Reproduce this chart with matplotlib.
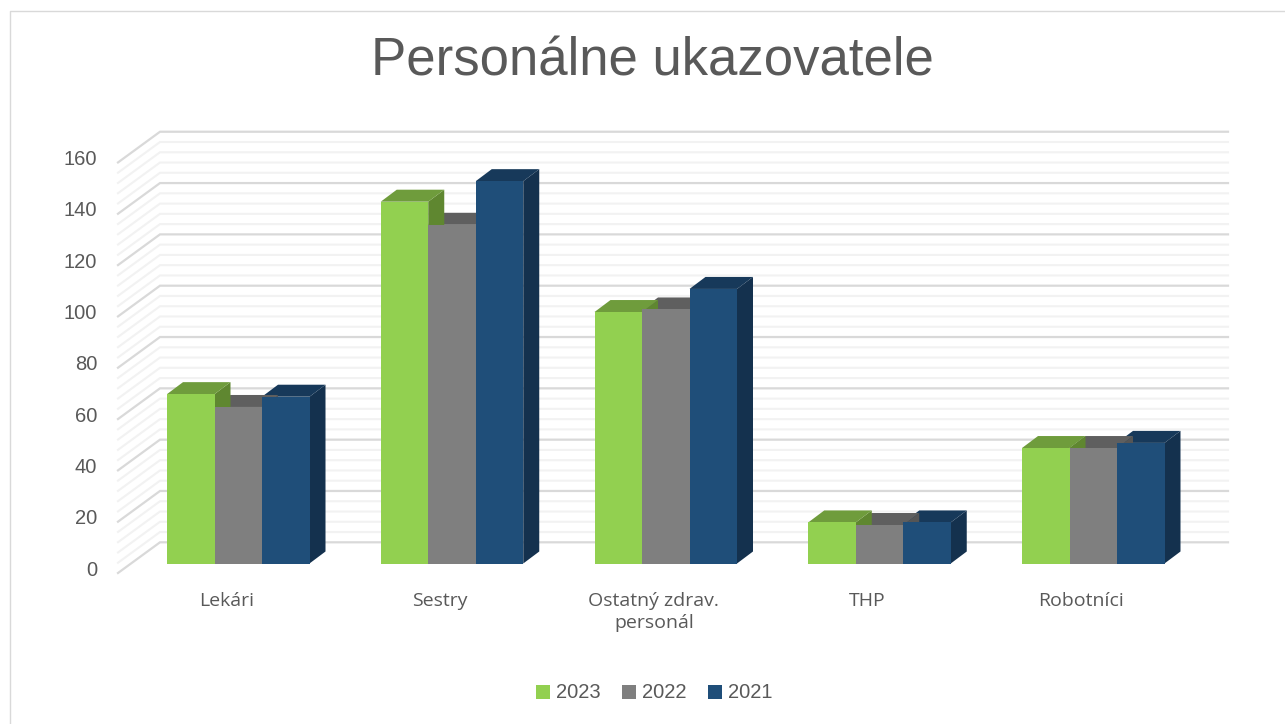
import matplotlib
matplotlib.use("Agg")
import matplotlib.pyplot as plt
from matplotlib.patches import Polygon

W, H = 1285, 724

categories = ["Lekári", "Sestry", "Ostatný zdrav.\npersonál", "THP", "Robotníci"]
years = ["2023", "2022", "2021"]
v2023 = [66, 141, 98, 16, 45]
v2022 = [61, 132, 99, 15, 45]
v2021 = [65, 149, 107, 16, 47]
y_ticks = [0, 20, 40, 60, 80, 100, 120, 140, 160]

FRONT = ["#92d050", "#7f7f7f", "#1f4e79"]
TOP = ["#6f9c3c", "#5f5f5f", "#17395a"]
SIDE = ["#5f8730", "#555555", "#14314e"]

GROUP_STEP = 213.75   # px per category
UNIT = 2.566          # px per value unit
X0_PX = 238.25        # centre of first group
Y0_PX = 563.5         # value 0 on the front of the bars
BAR_W = 47.5 / GROUP_STEP
DX = 16 / GROUP_STEP
DY = 12 / UNIT


def px_x(px):
    return (px - X0_PX) / GROUP_STEP


def px_y(px):
    return (Y0_PX - px) / UNIT


fig = plt.figure(figsize=(W / 100, H / 100), dpi=100, facecolor="white")
ax = fig.add_axes([0, 0, 1, 1])
ax.set_xlim(px_x(0), px_x(W))
ax.set_ylim(px_y(H), px_y(0))
ax.axis("off")

# frame of the chart area
ax.plot([px_x(9.5), px_x(9.5), px_x(W)], [px_y(H), px_y(10.5), px_y(10.5)],
        color="#d9d9d9", lw=1.0, zorder=1)

# gridlines on the side wall and the back wall
wall_front_x = px_x(118)
wall_back_x = px_x(160)
wall_right_x = px_x(1228)
wall_front_drop = 573 - Y0_PX
wall_back_rise = Y0_PX - 542.3
for v in range(0, 161, 4):
    major = v % 20 == 0
    yf = v - wall_front_drop / UNIT
    yb = v + wall_back_rise / UNIT
    ax.plot([wall_front_x, wall_back_x, wall_right_x], [yf, yb, yb],
            color="#d9d9d9" if major else "#f2f2f2",
            lw=1.6 if major else 1.5, zorder=2 if major else 1.5,
            solid_joinstyle="miter")

# bars, back to front so the neighbour's side is hidden
series = [v2023, v2022, v2021]
for c in range(len(categories)):
    for s in [2, 1, 0]:
        v = series[s][c]
        x0 = c + (s - 1.5) * BAR_W
        x1 = x0 + BAR_W
        ax.add_patch(Polygon([(x1, 0), (x1 + DX, DY), (x1 + DX, v + DY), (x1, v)],
                             closed=True, fc=SIDE[s], ec="none", zorder=3))
        ax.add_patch(Polygon([(x0, v), (x0 + DX, v + DY), (x1 + DX, v + DY), (x1, v)],
                             closed=True, fc=TOP[s], ec="none", zorder=3))
for c in range(len(categories)):
    for s in range(3):
        x = c + (s - 1) * BAR_W
        ax.bar(x, series[s][c], width=BAR_W, color=FRONT[s], zorder=4, linewidth=0)

# value labels next to the side wall
for v in y_ticks:
    ax.text(px_x(97), v - 5.0 / UNIT - 1.6 / UNIT, str(v), ha="right", va="center",
            fontsize=14.5, color="#595959", family="Liberation Sans")

# category labels
for c, name in enumerate(categories):
    ax.text(c - 12 / GROUP_STEP, px_y(592), name, ha="center", va="top",
            fontsize=14, color="#595959", family="Open Sans", linespacing=1.25)

# title
ax.text(px_x(652), px_y(61), "Personálne ukazovatele", ha="center", va="center",
        fontsize=38, color="#595959", family="Liberation Sans")

# legend
for name, col, sq, tx in zip(years, FRONT, [536, 622, 708], [556, 642, 728]):
    ax.add_patch(Polygon([(px_x(sq), px_y(685)), (px_x(sq + 14), px_y(685)),
                          (px_x(sq + 14), px_y(699)), (px_x(sq), px_y(699))],
                         closed=True, fc=col, ec="none"))
    ax.text(px_x(tx), px_y(692), name, ha="left", va="center",
            fontsize=14.5, color="#595959", family="Liberation Sans")

fig.savefig("out.png", dpi=100, facecolor="white")
